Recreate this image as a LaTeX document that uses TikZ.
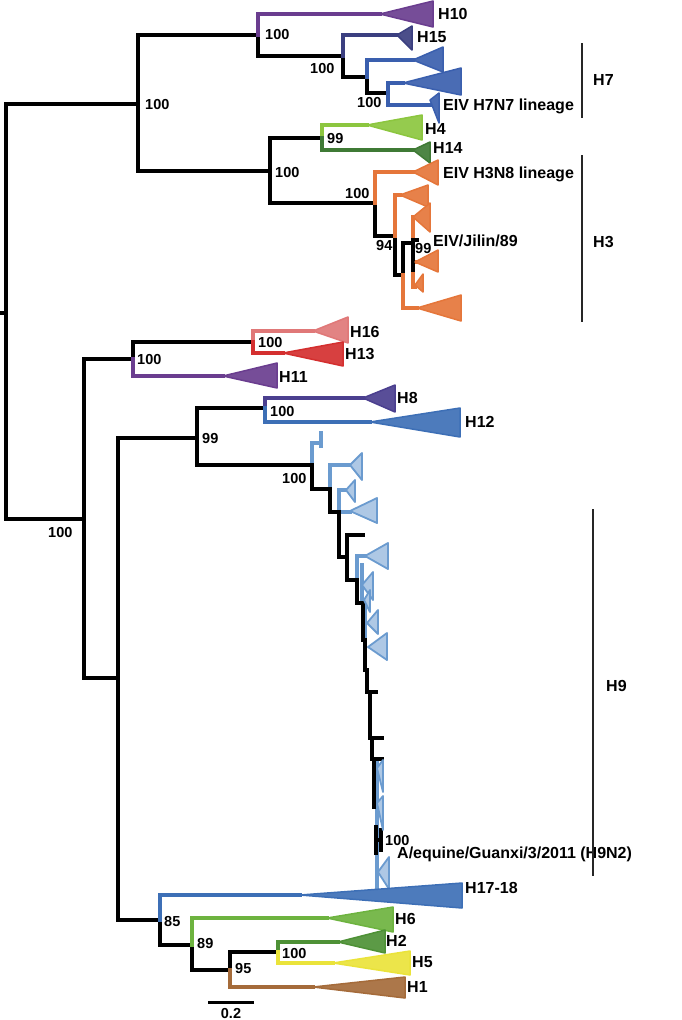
\documentclass[tikz,border=0pt]{standalone}
\usepackage{fontspec}
\setmainfont{Liberation Sans}
\definecolor{purp}{HTML}{6A3D8F}
\definecolor{navy}{HTML}{3B3F80}
\definecolor{hsev}{HTML}{3A5FAE}
\definecolor{lgreen}{HTML}{8CC63F}
\definecolor{dgreen}{HTML}{3F7A35}
\definecolor{orng}{HTML}{E5763A}
\definecolor{pink}{HTML}{E07878}
\definecolor{rred}{HTML}{D42F2F}
\definecolor{heig}{HTML}{4B3F8F}
\definecolor{htwe}{HTML}{3D6FB6}
\definecolor{lblue}{HTML}{6B9BCF}
\definecolor{hsix}{HTML}{6DB33F}
\definecolor{htwo}{HTML}{4E9136}
\definecolor{yell}{HTML}{EAE33A}
\definecolor{brwn}{HTML}{A56B3A}
\begin{document}
\begin{tikzpicture}[x=1pt, y=-1pt,
  br/.style={line width=3.6pt, line cap=rect},
  tri/.style={fill=#1!92!white, draw=#1, line width=1.5pt, line join=round},
  pale/.style={fill=lblue!55!white, draw=lblue, line width=1.8pt, line join=round},
  sup/.style={anchor=base west, inner sep=0pt, font=\fontsize{14.5}{16}\selectfont\bfseries},
  lab/.style={anchor=base west, inner sep=0pt, font=\fontsize{16}{18}\selectfont\bfseries},
  bracket/.style={line width=2.4pt, draw=black!85}]
  \useasboundingbox (0,0) rectangle (682,1020);

  % 1. black backbone
  \draw[br] (2,313) -- (6,313);
  \draw[br] (138,104) -- (6,104) -- (6,519) -- (84,519);
  \draw[br] (258,35) -- (138,35) -- (138,171) -- (270,171);
  \draw[br] (258,35) -- (258,56) -- (343,56) -- (343,77) -- (367,77) -- (367,93) -- (388,93);
  \draw[br] (270,171) -- (270,138) -- (322,138);
  \draw[br] (270,171) -- (270,203) -- (375,203) -- (375,236) -- (395,236) -- (395,275) -- (403,275) -- (403,243) -- (413,243);
  \draw[br] (84,519) -- (84,359) -- (133,359) -- (133,342) -- (253,342);
  \draw[br] (84,519) -- (84,678) -- (118,678) -- (118,438) -- (197,438) -- (197,408) -- (265,408);
  \draw[br] (118,678) -- (118,920) -- (160,920) -- (160,945) -- (192,945) -- (192,970) -- (230,970) -- (230,952) -- (278,952);

  % 2. H7 / H10 / H15
  \draw[br, purp] (258,35) -- (258,14) -- (380,14);
  \draw[br, navy] (343,56) -- (343,35) -- (397,35);
  \draw[br, hsev] (367,77) -- (367,60) -- (413,60);
  \draw[br, hsev] (388,93) -- (388,83) -- (403,83);
  \draw[br, hsev] (388,93) -- (388,105) -- (430,105);
  \filldraw[tri=purp] (380,14) -- (433,1) -- (433,27) -- cycle;
  \filldraw[tri=navy] (397,35) -- (412,26) -- (412,50) -- cycle;
  \filldraw[tri=hsev] (413,60) -- (443,47) -- (443,72) -- cycle;
  \filldraw[tri=hsev] (403,83) -- (461,68) -- (461,95) -- cycle;
  \filldraw[tri=hsev] (430,100) -- (439,93) -- (439,123) -- cycle;

  % 3. H4 / H14 / H3
  \draw[br, lgreen] (322,138) -- (322,125) -- (367,125);
  \draw[br, dgreen] (322,138) -- (322,150) -- (413,150);
  \draw[br, orng] (375,203) -- (375,172) -- (413,172);
  \draw[br, orng] (395,236) -- (395,195) -- (400,195);
  \draw[br, orng] (403,275) -- (403,308) -- (417,308);
  \draw[br, orng] (415,217) -- (413,217) -- (413,287) -- (415,287);
  \draw[br, orng] (413,262) -- (415,262);
  \draw[br] (413,240) -- (413,270); \draw[br] (413,240) -- (417,240);
  \filldraw[tri=lgreen] (367,125) -- (422,115) -- (422,140) -- cycle;
  \filldraw[tri=dgreen] (413,150) -- (430,142) -- (430,163) -- cycle;
  \filldraw[tri=orng] (413,172) -- (438,160) -- (438,185) -- cycle;
  \filldraw[tri=orng] (400,195) -- (428,185) -- (428,207) -- cycle;
  \filldraw[tri=orng] (413,217) -- (430,203) -- (430,232) -- cycle;
  \filldraw[tri=orng] (415,262) -- (438,250) -- (438,272) -- cycle;
  \filldraw[tri=orng] (415,285) -- (423,274) -- (423,292) -- cycle;
  \filldraw[tri=orng] (417,308) -- (461,295) -- (461,321) -- cycle;

  % 4. H16 / H13 / H11
  \draw[br, pink] (253,342) -- (253,331) -- (313,331);
  \draw[br, rred] (253,342) -- (253,353) -- (283,353);
  \draw[br, purp] (133,359) -- (133,376) -- (223,376);
  \filldraw[tri=pink] (313,331) -- (348,317) -- (348,343) -- cycle;
  \filldraw[tri=rred] (283,353) -- (343,342) -- (343,366) -- cycle;
  \filldraw[tri=purp] (223,376) -- (277,363) -- (277,388) -- cycle;

  % 5. H8 / H12
  \draw[br, heig] (265,408) -- (265,398) -- (363,398);
  \draw[br, htwe] (265,408) -- (265,422) -- (370,422);
  \filldraw[tri=heig] (363,398) -- (395,385) -- (395,412) -- cycle;
  \filldraw[tri=htwe] (370,422) -- (460,408) -- (460,437) -- cycle;

  % 6. H9 ladder
  \draw[br, lblue] (312,465) -- (312,443) -- (321,443);
  \draw[br, lblue] (321,433) -- (321,446);
  \draw[br, lblue] (330,489) -- (330,465) -- (350,465);
  \draw[br, lblue] (339,512) -- (339,490) -- (346,490);
  \draw[br, lblue] (339,512) -- (350,512);
  \draw[br, lblue] (357,580) -- (357,556) -- (365,556);
  \draw[br, lblue] (362,565) -- (362,603);
  \draw[br, lblue] (365,603) -- (365,660);
  \draw[br, lblue] (377,760) -- (377,895);
  \draw[br] (197,438) -- (197,465) -- (312,465) -- (312,489) -- (330,489) -- (330,512) -- (339,512) -- (339,557) -- (347,557) -- (347,580) -- (357,580) -- (357,603) -- (363,603) -- (363,640) -- (365,640) -- (365,670) -- (367,670) -- (367,692) -- (370,692) -- (370,738) -- (372,738) -- (372,759) -- (374,759) -- (374,807);
  \draw[br] (347,557) -- (347,535) -- (363,535);
  \draw[br] (367,692) -- (376,692);
  \draw[br] (372,738) -- (382,738);
  \draw[br] (374,759) -- (382,759);
  \draw[br] (376,827) -- (376,853);
  \draw[br] (381,830) -- (381,850);
  \draw[br] (376,840) -- (381,840);
  \filldraw[pale] (350,465) -- (362,453) -- (362,480) -- cycle;
  \filldraw[pale] (346,490) -- (355,480) -- (355,502) -- cycle;
  \filldraw[pale] (350,511) -- (377,498) -- (377,523) -- cycle;
  \filldraw[pale] (365,556) -- (388,543) -- (388,569) -- cycle;
  \filldraw[pale] (362,585) -- (373,572) -- (373,600) -- cycle;
  \filldraw[pale] (364,600) -- (370,590) -- (370,612) -- cycle;
  \filldraw[pale] (367,623) -- (378,610) -- (378,634) -- cycle;
  \filldraw[pale] (368,647) -- (387,633) -- (387,660) -- cycle;
  \filldraw[pale] (377,768) -- (383,760) -- (383,792) -- cycle;
  \filldraw[pale] (377,803) -- (383,796) -- (383,830) -- cycle;
  \filldraw[pale] (378,872) -- (389,857) -- (389,889) -- cycle;

  % 7. H17-18 / H6 / H2 / H5 / H1
  \draw[br, htwe] (160,920) -- (160,895) -- (300,895);
  \draw[br, hsix] (192,945) -- (192,918) -- (327,918);
  \draw[br, htwo] (278,952) -- (278,942) -- (338,942);
  \draw[br, yell] (278,952) -- (278,963) -- (333,963);
  \draw[br, brwn] (230,970) -- (230,987) -- (313,987);
  \filldraw[tri=htwe] (300,895) -- (462,883) -- (462,908) -- cycle;
  \filldraw[tri=hsix] (327,918) -- (393,907) -- (393,932) -- cycle;
  \filldraw[tri=htwo] (338,942) -- (385,930) -- (385,953) -- cycle;
  \filldraw[tri=yell] (333,963) -- (410,951) -- (410,975) -- cycle;
  \filldraw[tri=brwn] (313,987) -- (405,977) -- (405,998) -- cycle;

  % 8. support values
  \node[sup] (s1) at (145,109.5) {100};
  \node[sup] (s2) at (265,39) {100};
  \node[sup] (s3) at (310,73) {100};
  \node[sup] (s4) at (357,107) {100};
  \node[sup] (s5) at (327,143) {99};
  \node[sup] (s6) at (275,177) {100};
  \node[sup] (s7) at (345,198) {100};
  \node[sup] (s8) at (376,250) {94};
  \node[sup] (s9) at (415,253) {99};
  \node[sup] (s10) at (48,537) {100};
  \node[sup] (s11) at (137,364) {100};
  \node[sup] (s12) at (258,347) {100};
  \node[sup] (s13) at (202,443) {99};
  \node[sup] (s14) at (270,416) {100};
  \node[sup] (s15) at (282,483) {100};
  \node[sup] (s16) at (385,845) {100};
  \node[sup] (s17) at (164,926) {85};
  \node[sup] (s18) at (197,948) {89};
  \node[sup] (s19) at (235,973) {95};
  \node[sup] (s20) at (282,958) {100};

  % 9. clade names
  \node[lab] (h10) at (438,19) {H10};
  \node[lab] (h15) at (417,42) {H15};
  \node[lab] (eivseven) at (443,110) {EIV H7N7 lineage};
  \node[lab] (h4) at (425,134) {H4};
  \node[lab] (h14) at (433,153) {H14};
  \node[lab] (eivthree) at (443,178) {EIV H3N8 lineage};
  \node[lab] (jilin) at (433,246) {EIV/Jilin/89};
  \node[lab] (h16) at (350,337) {H16};
  \node[lab] (h13) at (345,359) {H13};
  \node[lab] (h11) at (279,382) {H11};
  \node[lab] (h8) at (397,403) {H8};
  \node[lab] (h12) at (465,427) {H12};
  \node[lab] (guanxi) at (397,858) {A/equine/Guanxi/3/2011 (H9N2)};
  \node[lab] (h1718) at (465,893) {H17-18};
  \node[lab] (h6) at (395,924) {H6};
  \node[lab] (h2) at (386,946) {H2};
  \node[lab] (h5) at (412,967) {H5};
  \node[lab] (h1) at (407,992) {H1};

  % 10. subtype brackets and scale
  \draw[bracket] (582,43) -- (582,118);
  \draw[bracket] (582,155) -- (582,322);
  \draw[bracket] (593,509) -- (593,876);
  \node[lab] (h7) at (593,85) {H7};
  \node[lab] (h3) at (593,247) {H3};
  \node[lab] (h9) at (606,691) {H9};
  \draw[line width=3pt] (208,1002) -- (254,1002);
  \node[sup, anchor=base] (scale) at (231,1018) {0.2};
\end{tikzpicture}
\end{document}
